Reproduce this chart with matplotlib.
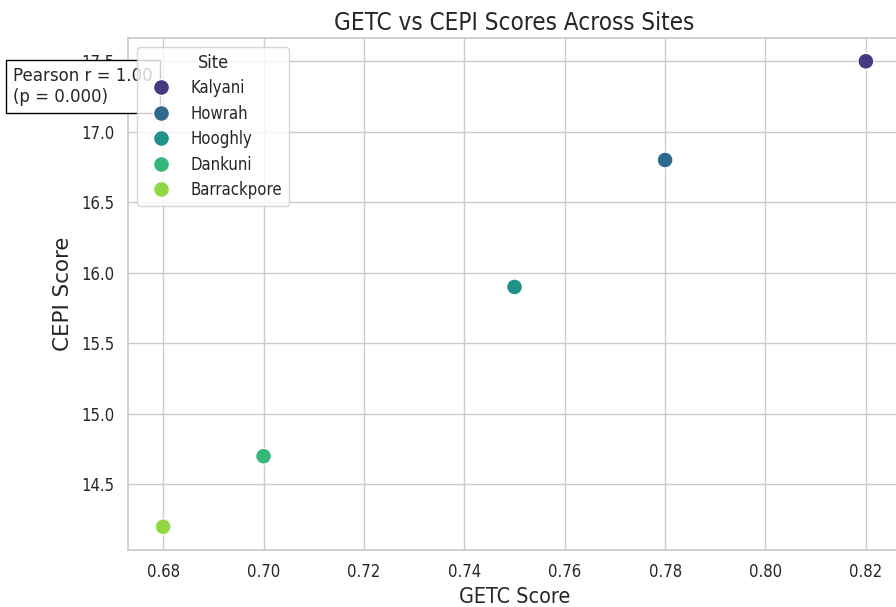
import matplotlib
matplotlib.use("Agg")
import matplotlib.pyplot as plt
import seaborn as sns
import pandas as pd

sites = ["Kalyani", "Howrah", "Hooghly", "Dankuni", "Barrackpore"]
getc = [0.82, 0.78, 0.75, 0.70, 0.68]
cepi = [17.5, 16.8, 15.9, 14.7, 14.2]
pearson_r = 1.00
p_value = 0.000

df = pd.DataFrame({"Site": sites, "GETC Score": getc, "CEPI Score": cepi})

sns.set_theme(style="whitegrid")
plt.rcParams["font.family"] = ["DejaVu Sans"]
plt.rcParams["font.stretch"] = "condensed"

fig = plt.figure(figsize=(8.96, 6.07), dpi=100)
ax = fig.add_axes([128 / 896, 1 - 550 / 607, (901 - 128) / 896, (550 - 38) / 607])

palette = sns.color_palette("viridis", len(sites))
sns.scatterplot(data=df, x="GETC Score", y="CEPI Score", hue="Site",
                palette=palette, s=130, ax=ax, zorder=3)

ax.set_title("GETC vs CEPI Scores Across Sites", fontsize=17.4)
ax.set_xlabel("GETC Score", fontsize=15.4)
ax.set_ylabel("CEPI Score", fontsize=15.4, fontstretch="normal", labelpad=6)
ax.tick_params(labelsize=12)

# stats box sits under the legend
ax.text(13 / 896, 1 - 67 / 607, f"Pearson r = {pearson_r:.2f}\n(p = {p_value:.3f})",
        transform=fig.transFigure, clip_on=False, zorder=5,
        fontsize=13.3, va="top", ha="left", linespacing=1.2,
        bbox=dict(boxstyle="square,pad=0.4", facecolor="white", edgecolor="black"))

leg = ax.legend(title="Site", loc="upper left", bbox_to_anchor=(0.0015, 0.9987),
                fontsize=12, title_fontsize=13, framealpha=0.8, labelspacing=0.45)
leg.set_zorder(10)

fig.savefig("out.png", dpi=100)
